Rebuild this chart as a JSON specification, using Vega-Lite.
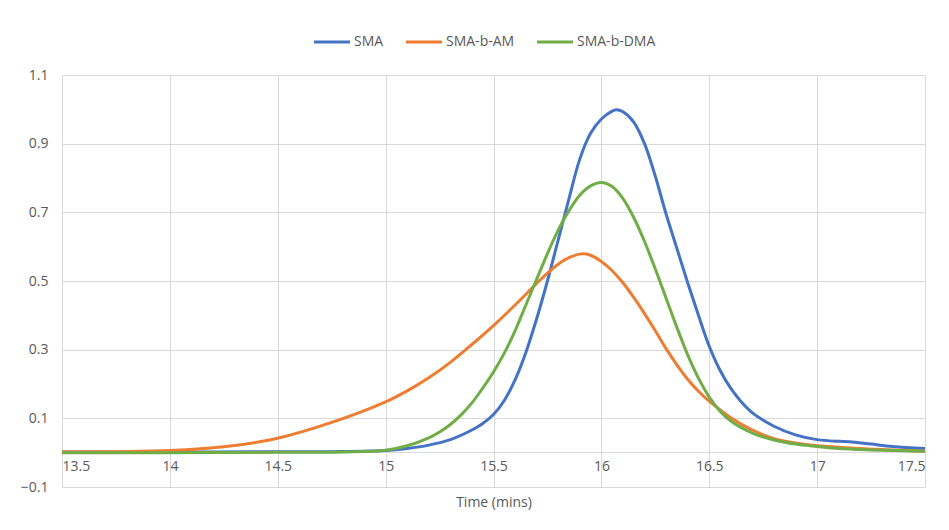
{
  "$schema": "https://vega.github.io/schema/vega-lite/v6.json",
  "width": 863,
  "height": 412,
  "autosize": {"type": "none"},
  "padding": {"left": 62, "top": 75, "right": 24, "bottom": 43},
  "background": "white",
  "config": {
    "view": {"stroke": null},
    "font": "Open Sans",
    "axis": {"labelColor": "#595959", "labelFontSize": 14, "titleColor": "#595959", "titleFontSize": 14, "titleFontWeight": "normal", "gridColor": "#D9D9D9", "gridWidth": 1, "ticks": false, "domain": false}
  },
  "data": {"values": [
    {"t": 13.5, "v": 0.002, "s": "SMA"}, {"t": 14.0, "v": 0.002, "s": "SMA"}, {"t": 14.5, "v": 0.003, "s": "SMA"}, {"t": 14.75, "v": 0.003, "s": "SMA"}, {"t": 15.0, "v": 0.006, "s": "SMA"}, {"t": 15.1, "v": 0.012, "s": "SMA"}, {"t": 15.2, "v": 0.022, "s": "SMA"}, {"t": 15.3, "v": 0.038, "s": "SMA"}, {"t": 15.4, "v": 0.066, "s": "SMA"}, {"t": 15.45, "v": 0.085, "s": "SMA"}, {"t": 15.5, "v": 0.111, "s": "SMA"}, {"t": 15.55, "v": 0.152, "s": "SMA"}, {"t": 15.6, "v": 0.212, "s": "SMA"}, {"t": 15.65, "v": 0.292, "s": "SMA"}, {"t": 15.7, "v": 0.39, "s": "SMA"}, {"t": 15.75, "v": 0.5, "s": "SMA"}, {"t": 15.8, "v": 0.62, "s": "SMA"}, {"t": 15.85, "v": 0.74, "s": "SMA"}, {"t": 15.9, "v": 0.855, "s": "SMA"}, {"t": 15.95, "v": 0.93, "s": "SMA"}, {"t": 16.0, "v": 0.972, "s": "SMA"}, {"t": 16.05, "v": 0.995, "s": "SMA"}, {"t": 16.07, "v": 0.999, "s": "SMA"}, {"t": 16.1, "v": 0.993, "s": "SMA"}, {"t": 16.15, "v": 0.963, "s": "SMA"}, {"t": 16.2, "v": 0.9, "s": "SMA"}, {"t": 16.25, "v": 0.805, "s": "SMA"}, {"t": 16.3, "v": 0.695, "s": "SMA"}, {"t": 16.35, "v": 0.595, "s": "SMA"}, {"t": 16.4, "v": 0.495, "s": "SMA"}, {"t": 16.45, "v": 0.4, "s": "SMA"}, {"t": 16.5, "v": 0.31, "s": "SMA"}, {"t": 16.55, "v": 0.24, "s": "SMA"}, {"t": 16.6, "v": 0.187, "s": "SMA"}, {"t": 16.65, "v": 0.147, "s": "SMA"}, {"t": 16.7, "v": 0.116, "s": "SMA"}, {"t": 16.8, "v": 0.077, "s": "SMA"}, {"t": 16.9, "v": 0.052, "s": "SMA"}, {"t": 17.0, "v": 0.038, "s": "SMA"}, {"t": 17.1, "v": 0.033, "s": "SMA"}, {"t": 17.15, "v": 0.032, "s": "SMA"}, {"t": 17.25, "v": 0.025, "s": "SMA"}, {"t": 17.35, "v": 0.018, "s": "SMA"}, {"t": 17.5, "v": 0.012, "s": "SMA"},
    {"t": 13.5, "v": 0.002, "s": "SMA-b-AM"}, {"t": 13.75, "v": 0.003, "s": "SMA-b-AM"}, {"t": 14.0, "v": 0.006, "s": "SMA-b-AM"}, {"t": 14.25, "v": 0.017, "s": "SMA-b-AM"}, {"t": 14.5, "v": 0.042, "s": "SMA-b-AM"}, {"t": 14.75, "v": 0.088, "s": "SMA-b-AM"}, {"t": 15.0, "v": 0.148, "s": "SMA-b-AM"}, {"t": 15.1, "v": 0.18, "s": "SMA-b-AM"}, {"t": 15.2, "v": 0.218, "s": "SMA-b-AM"}, {"t": 15.3, "v": 0.263, "s": "SMA-b-AM"}, {"t": 15.4, "v": 0.315, "s": "SMA-b-AM"}, {"t": 15.5, "v": 0.37, "s": "SMA-b-AM"}, {"t": 15.6, "v": 0.43, "s": "SMA-b-AM"}, {"t": 15.7, "v": 0.493, "s": "SMA-b-AM"}, {"t": 15.75, "v": 0.523, "s": "SMA-b-AM"}, {"t": 15.8, "v": 0.549, "s": "SMA-b-AM"}, {"t": 15.85, "v": 0.568, "s": "SMA-b-AM"}, {"t": 15.91, "v": 0.579, "s": "SMA-b-AM"}, {"t": 15.95, "v": 0.575, "s": "SMA-b-AM"}, {"t": 16.0, "v": 0.557, "s": "SMA-b-AM"}, {"t": 16.05, "v": 0.53, "s": "SMA-b-AM"}, {"t": 16.1, "v": 0.495, "s": "SMA-b-AM"}, {"t": 16.15, "v": 0.452, "s": "SMA-b-AM"}, {"t": 16.2, "v": 0.405, "s": "SMA-b-AM"}, {"t": 16.25, "v": 0.355, "s": "SMA-b-AM"}, {"t": 16.3, "v": 0.303, "s": "SMA-b-AM"}, {"t": 16.35, "v": 0.256, "s": "SMA-b-AM"}, {"t": 16.4, "v": 0.214, "s": "SMA-b-AM"}, {"t": 16.45, "v": 0.179, "s": "SMA-b-AM"}, {"t": 16.5, "v": 0.15, "s": "SMA-b-AM"}, {"t": 16.6, "v": 0.102, "s": "SMA-b-AM"}, {"t": 16.7, "v": 0.066, "s": "SMA-b-AM"}, {"t": 16.8, "v": 0.041, "s": "SMA-b-AM"}, {"t": 16.9, "v": 0.028, "s": "SMA-b-AM"}, {"t": 17.0, "v": 0.02, "s": "SMA-b-AM"}, {"t": 17.1, "v": 0.016, "s": "SMA-b-AM"}, {"t": 17.2, "v": 0.012, "s": "SMA-b-AM"}, {"t": 17.35, "v": 0.008, "s": "SMA-b-AM"}, {"t": 17.5, "v": 0.004, "s": "SMA-b-AM"},
    {"t": 13.5, "v": 0.0, "s": "SMA-b-DMA"}, {"t": 14.0, "v": 0.0, "s": "SMA-b-DMA"}, {"t": 14.5, "v": 0.001, "s": "SMA-b-DMA"}, {"t": 14.8, "v": 0.002, "s": "SMA-b-DMA"}, {"t": 15.0, "v": 0.007, "s": "SMA-b-DMA"}, {"t": 15.1, "v": 0.02, "s": "SMA-b-DMA"}, {"t": 15.2, "v": 0.043, "s": "SMA-b-DMA"}, {"t": 15.25, "v": 0.06, "s": "SMA-b-DMA"}, {"t": 15.3, "v": 0.082, "s": "SMA-b-DMA"}, {"t": 15.35, "v": 0.11, "s": "SMA-b-DMA"}, {"t": 15.4, "v": 0.145, "s": "SMA-b-DMA"}, {"t": 15.45, "v": 0.188, "s": "SMA-b-DMA"}, {"t": 15.5, "v": 0.235, "s": "SMA-b-DMA"}, {"t": 15.55, "v": 0.29, "s": "SMA-b-DMA"}, {"t": 15.6, "v": 0.355, "s": "SMA-b-DMA"}, {"t": 15.65, "v": 0.43, "s": "SMA-b-DMA"}, {"t": 15.7, "v": 0.505, "s": "SMA-b-DMA"}, {"t": 15.75, "v": 0.58, "s": "SMA-b-DMA"}, {"t": 15.8, "v": 0.648, "s": "SMA-b-DMA"}, {"t": 15.85, "v": 0.705, "s": "SMA-b-DMA"}, {"t": 15.9, "v": 0.75, "s": "SMA-b-DMA"}, {"t": 15.95, "v": 0.777, "s": "SMA-b-DMA"}, {"t": 16.0, "v": 0.787, "s": "SMA-b-DMA"}, {"t": 16.05, "v": 0.775, "s": "SMA-b-DMA"}, {"t": 16.1, "v": 0.74, "s": "SMA-b-DMA"}, {"t": 16.15, "v": 0.685, "s": "SMA-b-DMA"}, {"t": 16.2, "v": 0.615, "s": "SMA-b-DMA"}, {"t": 16.25, "v": 0.535, "s": "SMA-b-DMA"}, {"t": 16.3, "v": 0.45, "s": "SMA-b-DMA"}, {"t": 16.35, "v": 0.365, "s": "SMA-b-DMA"}, {"t": 16.4, "v": 0.285, "s": "SMA-b-DMA"}, {"t": 16.45, "v": 0.217, "s": "SMA-b-DMA"}, {"t": 16.5, "v": 0.162, "s": "SMA-b-DMA"}, {"t": 16.55, "v": 0.121, "s": "SMA-b-DMA"}, {"t": 16.6, "v": 0.092, "s": "SMA-b-DMA"}, {"t": 16.7, "v": 0.057, "s": "SMA-b-DMA"}, {"t": 16.8, "v": 0.037, "s": "SMA-b-DMA"}, {"t": 16.9, "v": 0.025, "s": "SMA-b-DMA"}, {"t": 17.0, "v": 0.018, "s": "SMA-b-DMA"}, {"t": 17.1, "v": 0.012, "s": "SMA-b-DMA"}, {"t": 17.25, "v": 0.008, "s": "SMA-b-DMA"}, {"t": 17.5, "v": 0.004, "s": "SMA-b-DMA"}
  ]},
  "mark": {"type": "line", "interpolate": "catmull-rom", "strokeWidth": 3, "clip": true},
  "encoding": {
    "x": {"field": "t", "type": "quantitative", "title": "Time (mins)",
      "scale": {"domain": [13.5, 17.5], "nice": false, "zero": false},
      "axis": {"values": [13.5, 14, 14.5, 15, 15.5, 16, 16.5, 17, 17.5], "format": "~f", "offset": -35, "domain": true, "domainColor": "#D9D9D9", "labelPadding": 7, "titlePadding": 22}},
    "y": {"field": "v", "type": "quantitative", "title": null,
      "scale": {"domain": [-0.1, 1.1], "nice": false, "zero": false},
      "axis": {"values": [-0.1, 0.1, 0.3, 0.5, 0.7, 0.9, 1.1], "format": ".1f", "labelPadding": 14}},
    "color": {"field": "s", "type": "nominal",
      "scale": {"domain": ["SMA", "SMA-b-AM", "SMA-b-DMA"], "range": ["#4472C4", "#ED7D31", "#70AD47"]},
      "legend": {"title": null, "orient": "none", "direction": "horizontal", "legendX": 250, "legendY": -53, "symbolType": "stroke", "symbolSize": 1300, "symbolStrokeWidth": 3, "labelFontSize": 14, "labelColor": "#595959", "labelOffset": 2, "columnPadding": 15}}
  }
}
